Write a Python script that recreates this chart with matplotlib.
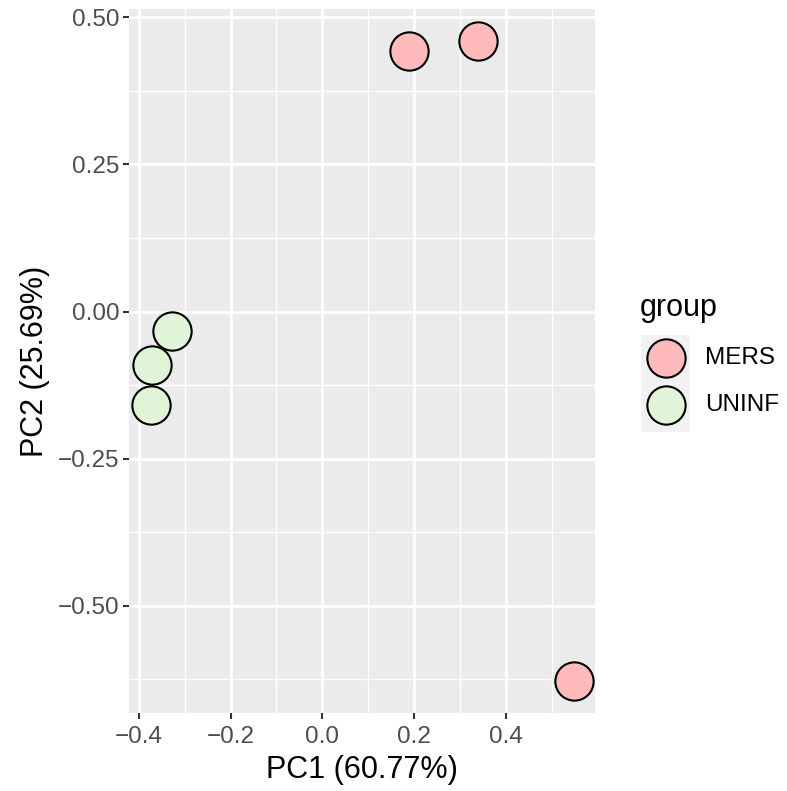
import matplotlib
matplotlib.use("Agg")
import matplotlib.pyplot as plt
from matplotlib.ticker import MultipleLocator

plt.rcParams['font.family'] = ['Liberation Sans', 'DejaVu Sans']

groups = ["MERS", "MERS", "MERS", "UNINF", "UNINF", "UNINF"]
pc1 = [0.190, 0.339, 0.548, -0.328, -0.372, -0.374]
pc2 = [0.442, 0.459, -0.627, -0.033, -0.090, -0.158]
group_levels = ["MERS", "UNINF"]
group_colors = {"MERS": "#FFBBBB", "UNINF": "#E0F5D8"}
x_ticks = [-0.4, -0.2, 0.0, 0.2, 0.4]
y_ticks = [-0.50, -0.25, 0.00, 0.25, 0.50]
x_label = "PC1 (60.77%)"
y_label = "PC2 (25.69%)"

fig = plt.figure(figsize=(7.87, 7.91), dpi=100)
ax = fig.add_axes([129/787, 1 - 713/791, (595-129)/787, (713-9)/791])
ax.set_facecolor("#EBEBEB")
for s in ax.spines.values():
    s.set_visible(False)

ax.set_xlim(-0.4214, 0.5944)
ax.set_ylim(-0.682, 0.514)
ax.set_xticks(x_ticks)
ax.set_yticks(y_ticks)
ax.set_xticklabels([f"{v:.1f}".replace("-", "\u2212") for v in x_ticks])
ax.set_yticklabels([f"{v:.2f}".replace("-", "\u2212") for v in y_ticks])
ax.xaxis.set_minor_locator(MultipleLocator(0.1))
ax.set_yticks([-0.625, -0.375, -0.125, 0.125, 0.375], minor=True)
ax.grid(which="major", color="white", linewidth=2.0)
ax.grid(which="minor", color="white", linewidth=1.0)
ax.set_axisbelow(True)
ax.tick_params(which="major", length=4.3, width=1.5, color="#333333",
               labelsize=17.5, labelcolor="#4D4D4D", pad=2.5)
ax.tick_params(axis="x", which="major", pad=5)
ax.tick_params(which="minor", length=0)

for g in group_levels:
    xs = [x for x, gg in zip(pc1, groups) if gg == g]
    ys = [y for y, gg in zip(pc2, groups) if gg == g]
    ax.scatter(xs, ys, s=760, facecolor=group_colors[g], edgecolor="black",
               linewidth=1.5, label=g, zorder=3)

ax.set_xlabel(x_label, fontsize=22, labelpad=5)
ax.set_ylabel(y_label, fontsize=22, labelpad=6)

# legend
fig.text(640/787, 1 - 308/791, "group", fontsize=22, va="center", ha="left")
leg_ax = fig.add_axes([641/787, 1 - 432/791, (690-641)/787, (432-335)/791])
leg_ax.set_xlim(0, 1)
leg_ax.set_ylim(0, 1)
leg_ax.set_facecolor("#F2F2F2")
leg_ax.set_xticks([])
leg_ax.set_yticks([])
for s in leg_ax.spines.values():
    s.set_visible(False)
for i, g in enumerate(group_levels):
    yk = 358 + i * 47
    leg_ax.scatter([0.5], [(432 - yk) / (432 - 335)], s=760,
                   facecolor=group_colors[g], edgecolor="black", linewidth=1.5,
                   clip_on=False)
    fig.text(705/787, 1 - yk/791, g, fontsize=17.5, va="center", ha="left")

fig.savefig("out.png", dpi=100)
